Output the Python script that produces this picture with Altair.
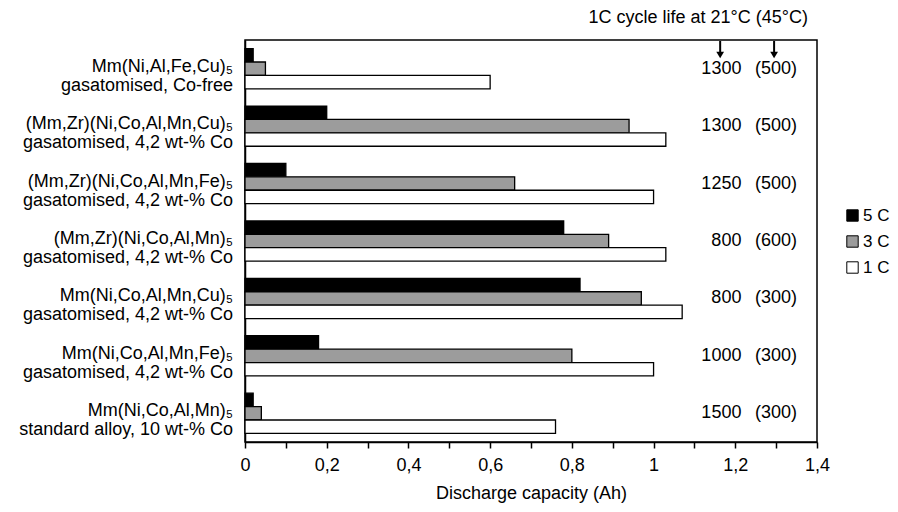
import altair as alt
import pandas as pd

formulas = ["Mm(Ni,Al,Fe,Cu)₅", "(Mm,Zr)(Ni,Co,Al,Mn,Cu)₅", "(Mm,Zr)(Ni,Co,Al,Mn,Fe)₅",
            "(Mm,Zr)(Ni,Co,Al,Mn)₅", "Mm(Ni,Co,Al,Mn,Cu)₅", "Mm(Ni,Co,Al,Mn,Fe)₅",
            "Mm(Ni,Co,Al,Mn)₅"]
descriptions = ["gasatomised, Co-free", "gasatomised, 4,2 wt-% Co", "gasatomised, 4,2 wt-% Co",
                "gasatomised, 4,2 wt-% Co", "gasatomised, 4,2 wt-% Co", "gasatomised, 4,2 wt-% Co",
                "standard alloy, 10 wt-% Co"]
rates = ["5 C", "3 C", "1 C"]
cap_5c = [0.02, 0.20, 0.10, 0.78, 0.82, 0.18, 0.02]
cap_3c = [0.05, 0.94, 0.66, 0.89, 0.97, 0.80, 0.04]
cap_1c = [0.60, 1.03, 1.00, 1.03, 1.07, 1.00, 0.76]
life_21 = [1300, 1300, 1250, 800, 800, 1000, 1500]
life_45 = [500, 500, 500, 600, 300, 300, 300]
x_ticks = [0, 0.1, 0.2, 0.3, 0.4, 0.5, 0.6, 0.7, 0.8, 0.9, 1.0, 1.1, 1.2, 1.3, 1.4]
rate_colors = ["#000000", "#9c9c9c", "#ffffff"]

FONT = "Liberation Sans"
labels = [f"{f}\n{d}" for f, d in zip(formulas, descriptions)]

rows = []
for i, lab in enumerate(labels):
    for r, vals in zip(rates, [cap_5c, cap_3c, cap_1c]):
        rows.append({"alloy": lab, "rate": r, "cap": vals[i]})
bars_df = pd.DataFrame(rows)
ann_df = pd.DataFrame({"alloy": labels,
                       "l21": [str(v) for v in life_21],
                       "l45": [f"({v})" for v in life_45]})
arrow_df = pd.DataFrame({"x": [1.163, 1.295]})

yscale = alt.Scale(domain=labels, paddingInner=0.3, paddingOuter=0.15)
ycommon = alt.Y("alloy:N", scale=yscale, sort=labels,
                axis=alt.Axis(labels=False, ticks=False, title=None, domainColor="black",
                              domainWidth=1.5, grid=False))

bars = alt.Chart(bars_df).mark_bar(stroke="black", strokeWidth=1.3).encode(
    y=ycommon,
    yOffset=alt.YOffset("rate:N", sort=rates),
    x=alt.X("cap:Q", scale=alt.Scale(domain=[0, 1.4], nice=False),
            axis=alt.Axis(values=x_ticks, title="Discharge capacity (Ah)",
                          labelExpr="round(datum.value*10) % 2 == 0 ? replace(format(datum.value, '.1~f'), '.', ',') : ''",
                          tickSize=6, tickColor="black", tickWidth=1.5, domainColor="black",
                          domainWidth=1.5, labelPadding=8, titlePadding=10, grid=False,
                          labelFontSize=18, titleFontSize=18, labelFont=FONT, titleFont=FONT,
                          labelColor="black", titleColor="black", titleFontWeight="normal",
                          labelFlush=False)),
    fill=alt.Fill("rate:N", scale=alt.Scale(domain=rates, range=rate_colors),
                  legend=alt.Legend(title=None, orient="none", legendX=599, legendY=167,
                                    symbolType="square", symbolSize=130,
                                    symbolStrokeColor="black", symbolStrokeWidth=1,
                                    labelFontSize=17, labelFont=FONT, labelColor="black",
                                    labelOffset=2, rowPadding=8, labelLimit=40)),
)

ylabels = alt.Chart(ann_df).mark_text(align="right", baseline="middle", fontSize=18, font=FONT,
                                      lineBreak="\n", lineHeight=19, dy=-2, color="black").encode(
    y=alt.Y("alloy:N", scale=yscale, sort=labels),
    x=alt.value(-12),
    text="alloy:N",
)

txt21 = alt.Chart(ann_df).mark_text(align="right", baseline="middle", fontSize=18, font=FONT,
                                    color="black").encode(
    y=alt.Y("alloy:N", scale=yscale, sort=labels),
    x=alt.datum(1.215),
    text="l21:N",
)
txt45 = alt.Chart(ann_df).mark_text(align="right", baseline="middle", fontSize=18, font=FONT,
                                    color="black").encode(
    y=alt.Y("alloy:N", scale=yscale, sort=labels),
    x=alt.datum(1.351),
    text="l45:N",
)

arrow_lines = alt.Chart(arrow_df).mark_rule(color="black", strokeWidth=2).encode(
    x="x:Q", y=alt.value(1), y2=alt.value(14))
arrow_heads = alt.Chart(arrow_df).mark_point(shape="triangle-down", filled=True, color="black",
                                             size=60, opacity=1).encode(
    x="x:Q", y=alt.value(15))

head_title = alt.Chart(pd.DataFrame({"t": ["1C cycle life at 21°C (45°C)"]})).mark_text(
    align="right", baseline="middle", fontSize=18, font=FONT, color="black").encode(
    x=alt.value(563), y=alt.value(-22), text="t:N")

chart = alt.layer(bars, ylabels, txt21, txt45, arrow_lines, arrow_heads, head_title).properties(
    width=572, height=402,
    autosize=alt.AutoSizeParams(type="none"),
    padding={"left": 237, "top": 32, "right": 73, "bottom": 62},
    background="white",
).configure_view(stroke="black", strokeWidth=1.5).configure_axis(grid=False)

chart.save("out.html", embed_options={"renderer": "svg", "actions": False})
